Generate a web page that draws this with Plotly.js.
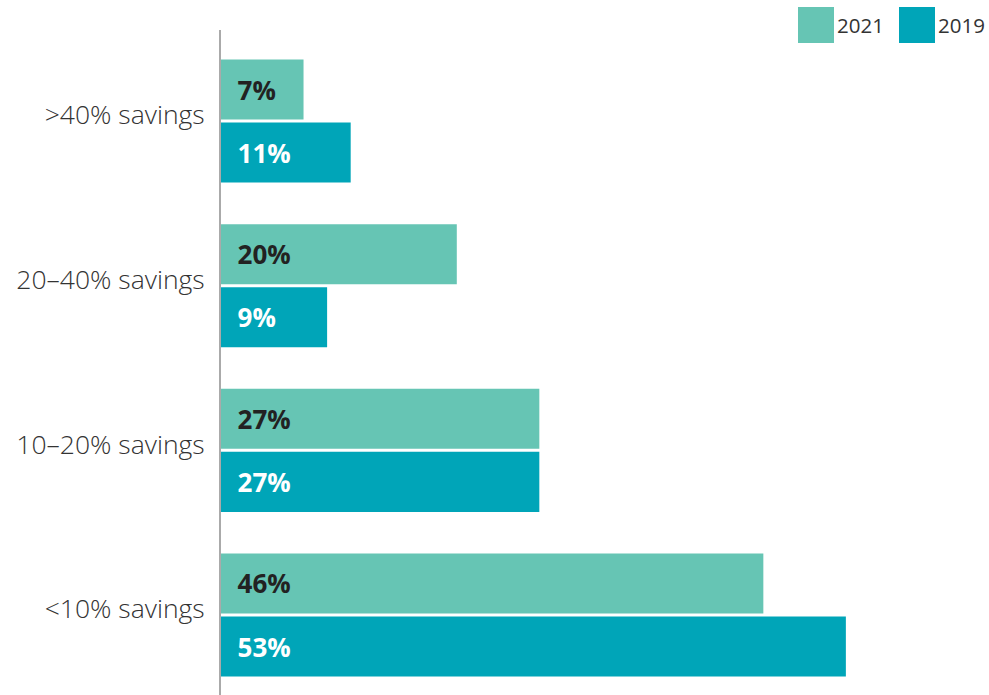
<!DOCTYPE html>
<html>
<head>
<meta charset="utf-8">
<script src="https://cdn.plot.ly/plotly-3.0.1.min.js"></script>
<style>
html,body{margin:0;padding:0;background:#fff;}
#chart{width:989px;height:695px;}
</style>
</head>
<body>
<div id="chart"></div>
<script>
const categories = ['>40% savings', '20–40% savings', '10–20% savings', '<10% savings'];
const series2021 = [7, 20, 27, 46];
const series2019 = [11, 9, 27, 53];
const seriesNames = ['2021', '2019'];
const colors = ['#66C5B4', '#00A5B8'];
const textColors = ['#222222', '#ffffff'];

const W = 989, H = 695;
const L = 221, R = 20, T = 30, B = 0;
const plotW = W - L - R, plotH = H - T - B;
const pxPerUnit = 11.79;

function px2paperX(px){ return (px - L) / plotW; }
function px2paperY(py){ return 1 - (py - T) / plotH; }

function barTrace(name, values, color, tcolor){
  return {
    type: 'bar',
    orientation: 'h',
    name: name,
    y: categories,
    x: values,
    marker: {color: color, line: {width: 0}},
    texttemplate: '\u00a0\u00a0%{x}%',
    textposition: 'inside',
    insidetextanchor: 'start',
    textangle: 0,
    constraintext: 'none',
    insidetextfont: {family: 'Open Sans', size: 26, color: tcolor, weight: 700},
    hoverinfo: 'skip',
    cliponaxis: false
  };
}

const data = [
  barTrace(seriesNames[0], series2021, colors[0], textColors[0]),
  barTrace(seriesNames[1], series2019, colors[1], textColors[1])
];

// legend built from swatches + text
const shapes = [];
const annotations = [];
const legendX = [798, 899];
seriesNames.forEach((n, i) => {
  shapes.push({
    type: 'rect', xref: 'paper', yref: 'paper',
    x0: px2paperX(legendX[i]), x1: px2paperX(legendX[i] + 36),
    y0: px2paperY(43), y1: px2paperY(7),
    fillcolor: colors[i], line: {width: 0}
  });
  annotations.push({
    xref: 'paper', yref: 'paper',
    x: px2paperX(legendX[i] + 37), y: px2paperY(25),
    xanchor: 'left', yanchor: 'middle',
    text: n, showarrow: false,
    font: {family: 'Open Sans', size: 20.5, color: '#333333'}
  });
});

const layout = {
  width: W, height: H,
  margin: {l: L, r: R, t: T, b: B, pad: 0},
  paper_bgcolor: '#ffffff',
  plot_bgcolor: '#ffffff',
  showlegend: false,
  barmode: 'group',
  bargap: 0.234,
  bargroupgap: 0.048,
  font: {family: 'Open Sans', color: '#333333'},
  xaxis: {
    range: [0, plotW / pxPerUnit],
    showgrid: false, zeroline: false, showline: false,
    showticklabels: false, ticks: ''
  },
  yaxis: {
    type: 'category',
    categoryorder: 'array',
    categoryarray: categories,
    range: [3.486, -0.553],
    showgrid: false, zeroline: false,
    showline: true, linecolor: '#aaaaaa', linewidth: 2,
    ticks: '',
    ticklabelstandoff: 9,
    ticklabelshift: 6,
    tickfont: {family: 'Open Sans', size: 26.5, color: '#333333', weight: 300}
  },
  shapes: shapes,
  annotations: annotations
};

Plotly.newPlot('chart', data, layout, {displayModeBar: false, staticPlot: true});
</script>
</body>
</html>
